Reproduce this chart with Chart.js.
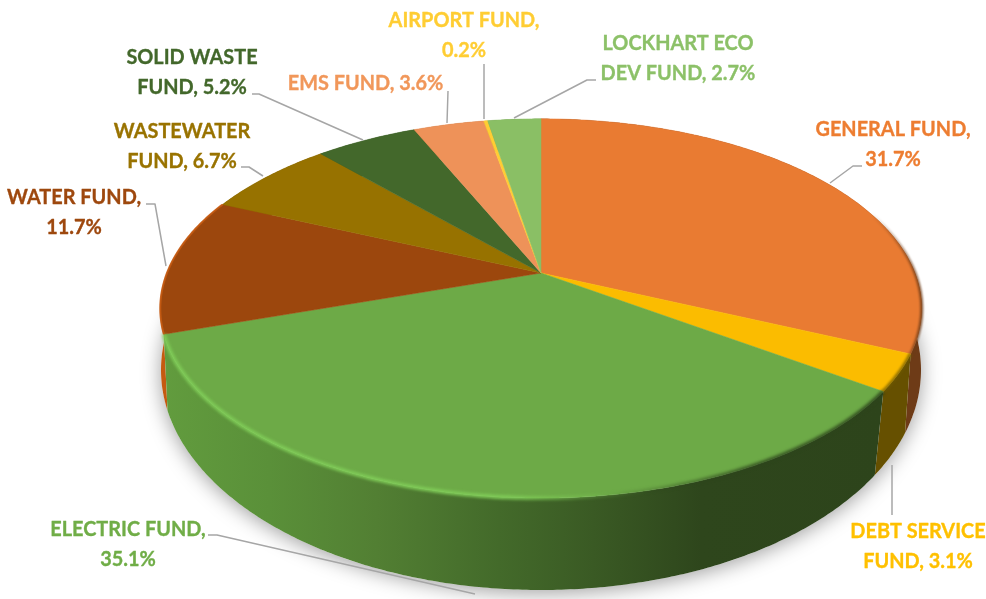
<!DOCTYPE html>
<html><head><meta charset="utf-8">
<style>html,body{margin:0;padding:0;background:#fff}canvas{display:block}</style>
<script src="https://cdn.jsdelivr.net/npm/chart.js@4"></script>
</head><body>
<canvas id="c" width="986" height="599"></canvas>
<script>
const categories = ["GENERAL FUND","DEBT SERVICE FUND","ELECTRIC FUND","WATER FUND","WASTEWATER FUND","SOLID WASTE FUND","EMS FUND","AIRPORT FUND","LOCKHART ECO DEV FUND"];
const shares = [31.7,3.1,35.1,11.7,6.7,5.2,3.6,0.2,2.7];
const sliceColors = ["#E97B32","#FBBC00","#6DAA47","#9C470D","#977200","#43682B","#EE9259","#FFCD33","#8ABF65"];
const labelColors = ["#ED7D31","#FFC000","#70AD47","#9E480E","#997300","#43682B","#F1975A","#FFCD33","#8CC168"];
const labelLines = [["GENERAL FUND,","31.7%"],["DEBT SERVICE","FUND, 3.1%"],["ELECTRIC FUND,","35.1%"],["WATER FUND,","11.7%"],["WASTEWATER","FUND, 6.7%"],["SOLID WASTE","FUND, 5.2%"],["EMS FUND, 3.6%"],["AIRPORT FUND,","0.2%"],["LOCKHART ECO","DEV FUND, 2.7%"]];

// layout of the labels: centre x, first baseline
const labelAnchors = [[893,136],[918,538],[128,536],[74,204],[182,138],[192,64],[365.5,90],[464,27],[678,50]];
const leaderPaths = [
 [[862,166],[853,166],[830,183]],
 [[892,465],[892,515]],
 [[208,535],[217,535],[475,594]],
 [[146,204],[155,204],[166,266]],
 [[241,167],[249,167],[263,176]],
 [[252,94],[259,94],[363,140]],
 [[448,91],[447,123]],
 [[484,64],[484,119]],
 [[596,80],[587,80],[514,118]]];
const sideColors = ["#6E3B17","#665000",null,"#C55A11","#6a5000","#2e481e","#a8683e","#b09020","#5f8547"];

const K = 0.187, SX = 374/273, SY = 183/273;
const BOT = {dx:0, yc:370, rx:380, ry:220, shift:0.05};
const TEXT_SQUEEZE = 0.925;

const pie3d = {
  id:'pie3d',
  beforeDatasetDraw(chart){
    const ctx = chart.ctx, arcs = chart.getDatasetMeta(0).data;
    const cx = arcs[0].x, cy = arcs[0].y, r = arcs[0].outerRadius;
    const R = r*SX, S = r*SY;
    const top = t => { const u=Math.sin(t), v=-Math.cos(t), d=1-K*v; return [cx+R*u/d, cy+S*v/d]; };
    const ye = cy + S*K/(1-K*K), re = S/(1-K*K), xe = R/Math.sqrt(1-K*K);
    const bottom = t => {
      const p = top(t);
      const phi = Math.atan2((p[0]-cx)/xe, -(p[1]-ye)/re);
      const f = phi + BOT.shift*Math.sin(phi);
      return [cx+BOT.dx+BOT.rx*Math.sin(f), BOT.yc-BOT.ry*Math.cos(f)];
    };
    const th = a => a.startAngle + Math.PI/2, te = a => a.endAngle + Math.PI/2;
    const samples = (a,fn) => { const n=Math.max(2,Math.ceil((te(a)-th(a))/0.01)), o=[];
      for(let i=0;i<=n;i++) o.push(fn(th(a)+(te(a)-th(a))*i/n)); return o; };

    // soft shadow
    ctx.save();
    ctx.shadowColor='rgba(0,0,0,0.38)'; ctx.shadowBlur=20; ctx.shadowOffsetY=3; ctx.fillStyle='#fff';
    ctx.beginPath(); ctx.ellipse(cx+BOT.dx,BOT.yc,BOT.rx,BOT.ry,0,0,Math.PI*2); ctx.fill();
    ctx.restore();

    // outer wall, back to front
    const order = arcs.map((a,i)=>i).sort((i,j)=>{
      const c=k=>-Math.cos((th(arcs[k])+te(arcs[k]))/2);
      return c(i)-c(j);
    });
    order.forEach(i=>{
      const a=arcs[i], up=samples(a,top), lo=samples(a,bottom).reverse();
      ctx.beginPath();
      up.concat(lo).forEach((p,k)=>k?ctx.lineTo(p[0],p[1]):ctx.moveTo(p[0],p[1]));
      ctx.closePath();
      if(sideColors[i]) ctx.fillStyle=sideColors[i];
      else {
        const g=ctx.createLinearGradient(cx-380,0,cx+340,0);
        g.addColorStop(0,'#629C3E'); g.addColorStop(0.15,'#5A9039'); g.addColorStop(0.3,'#527F33');
        g.addColorStop(0.47,'#436A2A'); g.addColorStop(0.6,'#3A5A24'); g.addColorStop(0.75,'#2E461C'); g.addColorStop(1,'#2D441B');
        ctx.fillStyle=g;
      }
      ctx.fill();
    });

    // top faces
    arcs.forEach((a,i)=>{
      ctx.beginPath(); ctx.moveTo(cx,cy);
      samples(a,top).forEach(p=>ctx.lineTo(p[0],p[1]));
      ctx.closePath(); ctx.fillStyle=sliceColors[i]; ctx.fill();
      ctx.strokeStyle=sliceColors[i]; ctx.lineWidth=0.5; ctx.stroke();
    });

    // bevel along the rim
    const rimStroke=(i,style,w,blur)=>{
      ctx.save(); ctx.beginPath();
      if(blur) ctx.filter='blur('+blur+'px)';
      samples(arcs[i],top).forEach((p,k)=>k?ctx.lineTo(p[0],p[1]):ctx.moveTo(p[0],p[1]));
      ctx.strokeStyle=style; ctx.lineWidth=w; ctx.lineCap='butt'; ctx.stroke(); ctx.restore();
    };
    const hi=ctx.createLinearGradient(cx-380,0,cx+340,0);
    hi.addColorStop(0,'rgba(128,205,88,0.95)'); hi.addColorStop(0.48,'rgba(128,205,88,0.95)');
    hi.addColorStop(0.6,'rgba(128,205,88,0.25)'); hi.addColorStop(0.68,'rgba(44,68,27,0.25)');
    hi.addColorStop(0.82,'rgba(44,68,27,0.8)'); hi.addColorStop(1,'rgba(44,68,27,0.9)');
    rimStroke(2,hi,4,1.5);
    rimStroke(1,'rgba(110,88,0,0.7)',4,1.2);
    const gb=ctx.createLinearGradient(cx+330,0,cx+380,0);
    gb.addColorStop(0,'rgba(110,60,24,0)'); gb.addColorStop(1,'rgba(110,60,24,0.85)');
    rimStroke(0,gb,3,1);
    rimStroke(3,'rgba(197,90,17,0.9)',2,0.6);

    return false;
  },
  afterDatasetsDraw(chart){
    const ctx=chart.ctx;
    ctx.save();
    ctx.strokeStyle='#A6A6A6'; ctx.lineWidth=1.5; ctx.lineJoin='round';
    leaderPaths.forEach(path=>{ ctx.beginPath();
      path.forEach((p,k)=>k?ctx.lineTo(p[0],p[1]):ctx.moveTo(p[0],p[1])); ctx.stroke(); });
    ctx.font='bold 21.5px Lato'; ctx.textAlign='center'; ctx.textBaseline='alphabetic'; ctx.lineWidth=0.35;
    labelLines.forEach((lines,i)=>{ ctx.fillStyle=labelColors[i]; ctx.strokeStyle=labelColors[i];
      lines.forEach((t,k)=>{
        ctx.save();
        ctx.translate(labelAnchors[i][0],labelAnchors[i][1]+k*30);
        ctx.scale(TEXT_SQUEEZE,1);
        ctx.fillText(t,0,0); ctx.strokeText(t,0,0);
        ctx.restore();
      }); });
    ctx.restore();
  }
};

new Chart(document.getElementById('c'),{
  type:'pie',
  data:{labels:categories,datasets:[{data:shares,backgroundColor:sliceColors,borderWidth:0}]},
  options:{responsive:false,animation:false,events:[],
    layout:{padding:{left:96,bottom:53}},
    plugins:{legend:{display:false},tooltip:{enabled:false},title:{display:false}}},
  plugins:[pie3d]
});
</script>
</body></html>
